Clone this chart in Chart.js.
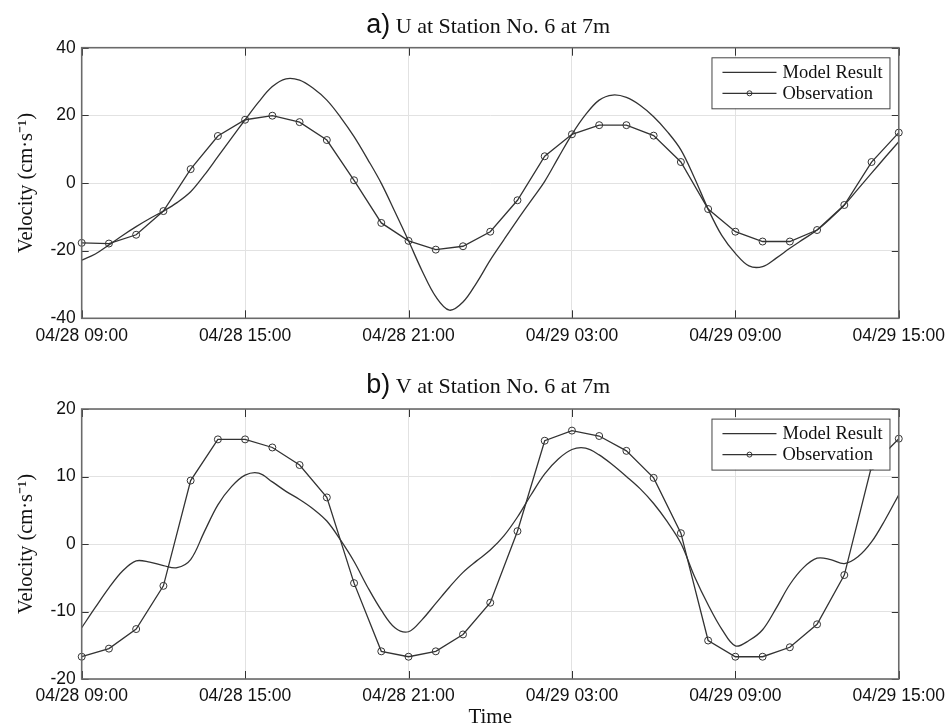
<!DOCTYPE html>
<html>
<head>
<meta charset="utf-8">
<script src="https://cdn.jsdelivr.net/npm/chart.js"></script>
<style>
  body { margin: 0; background: #fff; }
  canvas { display: block; }
</style>
</head>
<body>
<canvas id="chartU" width="952" height="364"></canvas>
<canvas id="chartV" width="952" height="364"></canvas>
<script>
// tick labels for the time axis (hours after 04/28 09:00)
const timeTicks = ['04/28 09:00', '04/28 15:00', '04/28 21:00', '04/29 03:00', '04/29 09:00', '04/29 15:00'];

// hourly observations
const obsHours = [0, 1, 2, 3, 4, 5, 6, 7, 8, 9, 10, 11, 12, 13, 14, 15, 16, 17, 18, 19, 20, 21, 22, 23, 24, 25, 26, 27, 28, 29, 30];
const uObs = [-17.7, -17.9, -15.3, -8.3, 4.1, 13.9, 18.7, 19.9, 18.0, 12.7, 0.8, -11.8, -17.1, -19.7, -18.7,
  -14.4, -5.1, 7.9, 14.4, 17.1, 17.1, 14.0, 6.2, -7.7, -14.4, -17.3, -17.3, -13.9, -6.5, 6.2, 14.9];
const vObs = [-16.7, -15.5, -12.6, -6.2, 9.4, 15.5, 15.5, 14.3, 11.7, 6.9, -5.8, -15.9, -16.7, -15.9, -13.4,
  -8.7, 1.9, 15.3, 16.8, 16.0, 13.8, 9.8, 1.6, -14.3, -16.7, -16.7, -15.3, -11.9, -4.6, 11.5, 15.6];

// model output, every half hour
const modelHours = [0, 0.5, 1, 1.5, 2, 2.5, 3, 3.5, 4, 4.5, 5, 5.5, 6, 6.5, 7, 7.5, 8, 8.5, 9, 9.5,
  10, 10.5, 11, 11.5, 12, 12.5, 13, 13.5, 14, 14.5, 15, 15.5, 16, 16.5, 17, 17.5, 18, 18.5, 19, 19.5,
  20, 20.5, 21, 21.5, 22, 22.5, 23, 23.5, 24, 24.5, 25, 25.5, 26, 26.5, 27, 27.5, 28, 28.5, 29, 29.5, 30];
const uModel = [-22.8, -21.0, -18.3, -15.5, -12.9, -10.5, -8.3, -5.8, -2.6, 2.3,
  7.8, 13.3, 18.7, 24.0, 28.5, 30.8, 30.4, 28.0, 24.5, 19.5,
  13.7, 7.0, -0.1, -8.5, -17.1, -26.0, -33.6, -37.6, -35.2, -29.5,
  -22.8, -16.8, -10.9, -5.2, 0.5, 7.5, 14.4, 20.2, 24.5, 26.0,
  25.3, 23.0, 19.6, 15.2, 9.8, 1.5, -7.7, -15.5, -20.8, -24.5,
  -24.7, -22.2, -19.3, -16.6, -13.9, -10.4, -6.5, -1.8, 2.9, 7.6,
  12.2];
const vModel = [-12.4, -9.4, -6.5, -4.0, -2.5, -2.7, -3.2, -3.5, -2.3, 1.8,
  5.8, 8.5, 10.2, 10.5, 9.2, 7.8, 6.6, 5.2, 3.4, 0.6,
  -2.6, -6.4, -9.8, -12.4, -13.0, -11.2, -8.8, -6.4, -4.2, -2.5,
  -0.9, 1.2, 4.0, 7.3, 10.4, 12.6, 14.0, 14.2, 13.2, 11.7,
  10.0, 8.2, 6.0, 3.3, 0.1, -4.8, -9.0, -12.6, -15.1, -14.3,
  -12.7, -9.5, -6.0, -3.5, -2.1, -2.3, -2.9, -1.9, 0.3, 3.6,
  7.3];

const SANS = '"Liberation Sans", Arial, sans-serif';
const SERIF = '"Liberation Serif", "Times New Roman", serif';

function toPoints(xs, ys) {
  return xs.map((x, i) => ({ x: x, y: ys[i] }));
}

// frame, inward ticks, boxed legend and the "a) ..." title
const figurePlugin = {
  id: 'figure',
  afterDatasetsDraw(chart, args, opts) {
    const ctx = chart.ctx;
    const a = chart.chartArea;
    const xs = chart.scales.x, ys = chart.scales.y;
    ctx.save();

    ctx.strokeStyle = '#333';
    ctx.lineWidth = 1;
    ctx.beginPath();
    xs.ticks.forEach(t => {
      const px = Math.round(xs.getPixelForValue(t.value)) + 0.5;
      ctx.moveTo(px, a.top); ctx.lineTo(px, a.top + 8);
      ctx.moveTo(px, a.bottom); ctx.lineTo(px, a.bottom - 8);
    });
    ys.ticks.forEach(t => {
      const py = Math.round(ys.getPixelForValue(t.value)) + 0.5;
      ctx.moveTo(a.left, py); ctx.lineTo(a.left + 7, py);
      ctx.moveTo(a.right, py); ctx.lineTo(a.right - 7, py);
    });
    ctx.stroke();

    ctx.strokeStyle = '#6a6a6a';
    ctx.lineWidth = 1.6;
    ctx.strokeRect(a.left, a.top, a.right - a.left, a.bottom - a.top);

    // legend box
    const bw = 178, bh = 51;
    const bx = a.right - 9.3 - bw, by = a.top + 9.6;
    ctx.fillStyle = '#fff';
    ctx.fillRect(bx, by, bw, bh);
    ctx.strokeStyle = '#444';
    ctx.lineWidth = 1;
    ctx.strokeRect(bx + 0.5, by + 0.5, bw, bh);
    ctx.font = '18.5px ' + SERIF;
    ctx.textBaseline = 'middle';
    ctx.textAlign = 'left';
    chart.data.datasets.forEach((ds, i) => {
      const ly = by + 15 + i * 21;
      ctx.strokeStyle = ds.borderColor;
      ctx.lineWidth = ds.borderWidth;
      ctx.beginPath();
      ctx.moveTo(bx + 11, ly); ctx.lineTo(bx + 65, ly);
      ctx.stroke();
      if (ds.pointRadius > 0) {
        ctx.lineWidth = 1;
        ctx.beginPath();
        ctx.arc(bx + 38, ly, 2.5, 0, Math.PI * 2);
        ctx.stroke();
      }
      ctx.fillStyle = '#111';
      ctx.fillText(ds.label, bx + 71, ly + 1);
    });
    ctx.restore();
  },
  afterDraw(chart, args, opts) {
    const ctx = chart.ctx;
    const a = chart.chartArea;
    ctx.save();
    ctx.fillStyle = '#111';
    ctx.textBaseline = 'alphabetic';
    ctx.textAlign = 'left';
    ctx.font = '27px ' + SANS;
    const w1 = ctx.measureText(opts.prefix).width;
    ctx.font = '22px ' + SERIF;
    const w2 = ctx.measureText(' ' + opts.text).width;
    const x0 = (a.left + a.right) / 2 - 2 - (w1 + w2) / 2;
    ctx.font = '27px ' + SANS;
    ctx.fillText(opts.prefix, x0, opts.baseline);
    ctx.font = '22px ' + SERIF;
    ctx.fillText(' ' + opts.text, x0 + w1, opts.baseline);
    ctx.restore();
  }
};

function makeChart(id, model, obs, yRange, step, top, xHeight, titleOpts, showTime) {
  return new Chart(document.getElementById(id), {
    type: 'line',
    data: {
      datasets: [{
        label: 'Model Result',
        data: toPoints(modelHours, model),
        borderColor: '#333',
        borderWidth: 1.3,
        pointRadius: 0,
        tension: 0.35
      }, {
        label: 'Observation',
        data: toPoints(obsHours, obs),
        borderColor: '#333',
        borderWidth: 1.3,
        pointRadius: 3.5,
        pointBorderWidth: 1,
        pointBorderColor: '#333',
        pointBackgroundColor: 'rgba(0,0,0,0)',
        tension: 0,
        clip: 6
      }]
    },
    options: {
      responsive: false,
      devicePixelRatio: 1,
      animation: false,
      layout: { padding: { left: 0, right: 48.7, top: top, bottom: 0 } },
      plugins: {
        legend: { display: false },
        tooltip: { enabled: false },
        figure: titleOpts
      },
      scales: {
        x: {
          type: 'linear',
          min: 0,
          max: 30,
          afterFit: (s) => { s.height = xHeight; },
          grid: { color: '#e2e2e2', drawTicks: false },
          border: { display: false },
          ticks: {
            stepSize: 6,
            autoSkip: false,
            maxRotation: 0,
            padding: 7,
            color: '#111',
            font: { family: SANS, size: 17.5 },
            callback: (v) => timeTicks[v / 6]
          },
          title: {
            display: showTime,
            text: 'Time',
            color: '#111',
            padding: { top: 0, bottom: 0 },
            font: { family: SERIF, size: 21, lineHeight: 1 }
          }
        },
        y: {
          min: yRange[0],
          max: yRange[1],
          afterFit: (s) => { s.width = 81.7; },
          grid: { color: '#e2e2e2', drawTicks: false },
          border: { display: false },
          ticks: {
            stepSize: step,
            padding: 6,
            color: '#111',
            font: { family: SANS, size: 17.5 }
          },
          title: {
            display: true,
            text: 'Velocity (cm·s⁻¹)',
            color: '#111',
            padding: { top: 14, bottom: 0 },
            font: { family: SERIF, size: 20.5 }
          }
        }
      }
    },
    plugins: [figurePlugin]
  });
}

makeChart('chartU', uModel, uObs, [-40, 40], 20, 47.7, 45.7,
  { prefix: 'a)', text: 'U at Station No. 6 at 7m', baseline: 33 }, false);
makeChart('chartV', vModel, vObs, [-20, 20], 10, 45, 49,
  { prefix: 'b)', text: 'V at Station No. 6 at 7m', baseline: 29 }, true);
</script>
</body>
</html>
